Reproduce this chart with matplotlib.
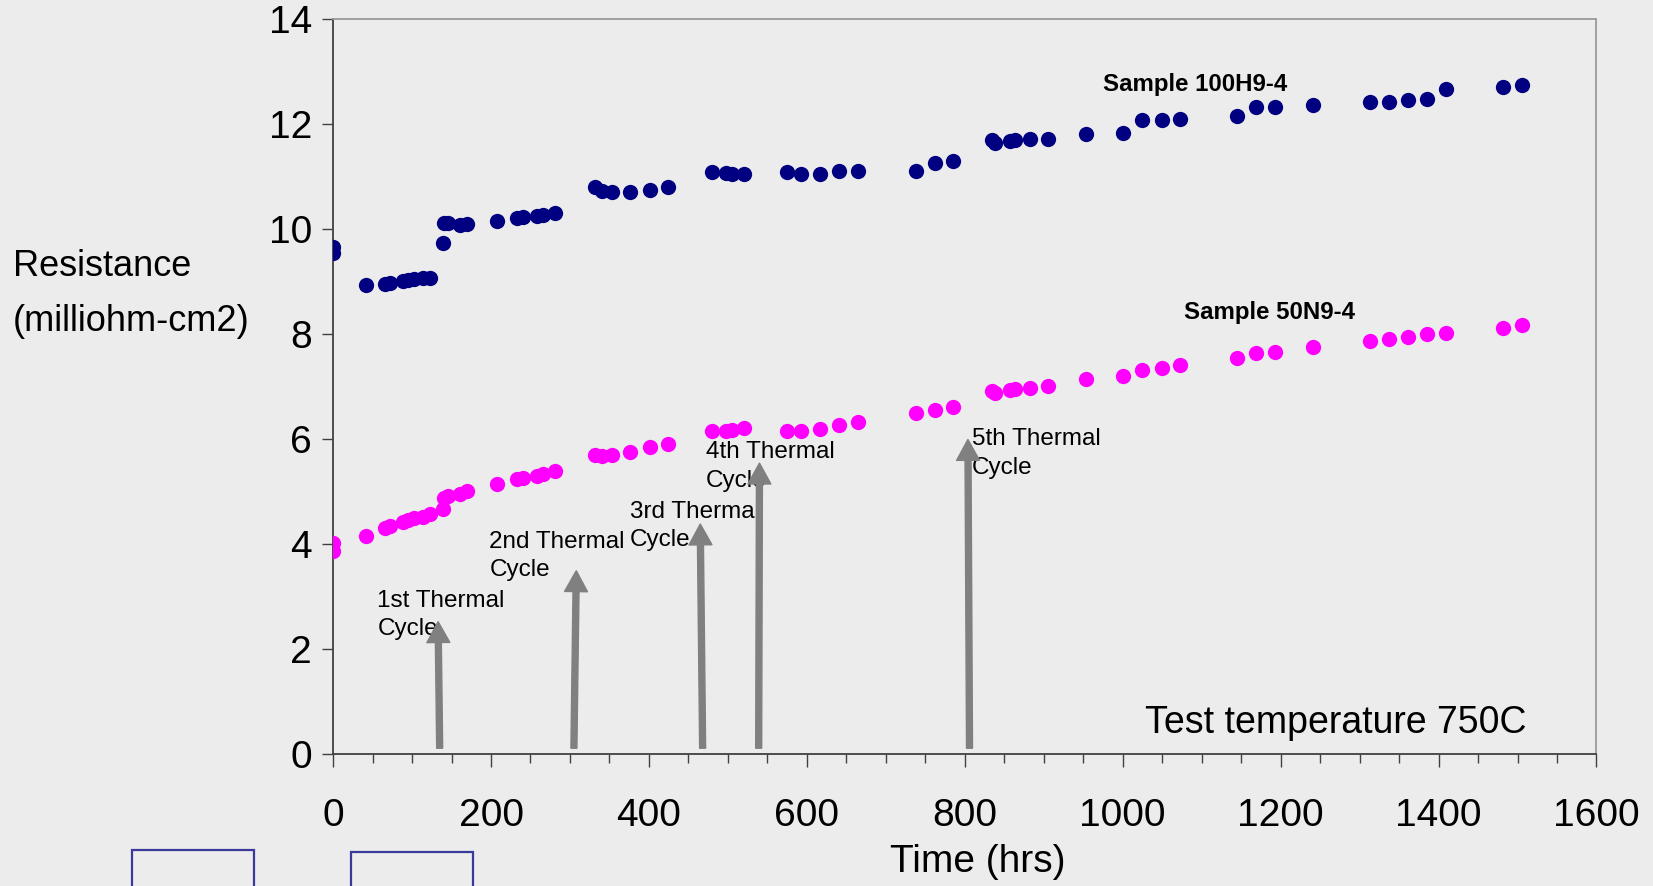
"""Resistance vs time for two samples through five thermal cycles (750C test)."""

import matplotlib
matplotlib.use("Agg")
import matplotlib.pyplot as plt
from matplotlib import font_manager
from matplotlib.patches import Rectangle
from matplotlib.ticker import MultipleLocator

# the original uses Arial Narrow; fall back to Liberation Sans at a smaller size
_installed = {f.name for f in font_manager.fontManager.ttflist}
if "Liberation Sans Narrow" in _installed:
    NARROW, SHRINK = ["Liberation Sans Narrow", "DejaVu Sans"], 1.15
else:
    NARROW, SHRINK = ["Liberation Sans", "DejaVu Sans"], 1.0
REGULAR = ["Liberation Sans", "DejaVu Sans"]
BG = "#ececec"

# hours at which both samples were measured
time_hrs = [0, 0, 42, 66, 72, 89, 95, 102, 114, 123, 139, 140, 146, 161, 170,
            208, 233, 241, 258, 266, 281, 332, 340, 353, 376, 401, 424,
            480, 497, 505, 520, 575, 593, 617, 641, 665, 738, 762, 785,
            834, 838, 857, 864, 882, 905, 953, 1001, 1025, 1050, 1073,
            1145, 1169, 1193, 1241, 1313, 1337, 1361, 1385, 1409, 1481, 1506]

sample_100h9 = [9.65, 9.55, 8.93, 8.95, 8.98, 9.01, 9.03, 9.04, 9.06, 9.07, 9.73,
                10.12, 10.11, 10.08, 10.10, 10.15, 10.20, 10.22, 10.25, 10.27, 10.30,
                10.79, 10.73, 10.71, 10.71, 10.75, 10.79,
                11.09, 11.06, 11.04, 11.05, 11.09, 11.05, 11.04, 11.10, 11.11,
                11.11, 11.26, 11.30, 11.70, 11.64, 11.68, 11.70, 11.72, 11.71,
                11.80, 11.83, 12.08, 12.08, 12.10, 12.16, 12.32, 12.33, 12.36,
                12.41, 12.41, 12.45, 12.47, 12.66, 12.71, 12.75]

sample_50n9 = [4.01, 3.87, 4.15, 4.30, 4.34, 4.42, 4.46, 4.49, 4.52, 4.57, 4.67,
               4.88, 4.91, 4.95, 5.00, 5.15, 5.23, 5.26, 5.30, 5.33, 5.39,
               5.70, 5.68, 5.70, 5.76, 5.85, 5.90,
               6.16, 6.16, 6.17, 6.20, 6.15, 6.15, 6.19, 6.27, 6.32,
               6.50, 6.56, 6.61, 6.92, 6.87, 6.93, 6.95, 6.97, 7.00,
               7.14, 7.19, 7.31, 7.36, 7.40, 7.54, 7.63, 7.66, 7.76,
               7.87, 7.90, 7.95, 7.99, 8.01, 8.12, 8.18]

# thermal cycle arrows: (x at base, x at tip, tip height) and their captions
cycle_labels = ["1st Thermal\nCycle", "2nd Thermal\nCycle", "3rd Thermal\nCycle",
                "4th Thermal\nCycle", "5th Thermal\nCycle"]
cycle_base_x = [135, 305, 468, 539, 806]
cycle_tip_x = [133, 308, 465, 540, 804]
cycle_tip_y = [2.52, 3.49, 4.38, 5.54, 5.99]
cycle_label_x = [56, 198, 376, 472, 809]
cycle_label_y = [3.13, 4.25, 4.82, 5.96, 6.20]

fig = plt.figure(figsize=(16.53, 8.86), dpi=100, facecolor=BG)
ax = fig.add_axes([0.2015, 0.149, 0.7643, 0.8296], facecolor=BG)

ax.plot(time_hrs, sample_100h9, "o", color="#000080", ms=11, mew=0, zorder=3)
ax.plot(time_hrs, sample_50n9, "o", color="#ff00ff", ms=11, mew=0, zorder=3)

for label, lx, ly in zip(cycle_labels, cycle_label_x, cycle_label_y):
    ax.text(lx, ly, label, family=NARROW, fontsize=17.5 * SHRINK, va="top", ha="left",
            linespacing=1.38, zorder=2)
for bx, tx, ty in zip(cycle_base_x, cycle_tip_x, cycle_tip_y):
    ax.annotate("", xy=(tx, ty), xytext=(bx, 0.11),
                arrowprops=dict(facecolor="#808080", edgecolor="#808080",
                                width=4.3, headwidth=16.5, headlength=15, shrink=0),
                zorder=4)

ax.text(1209, 12.62, "Sample 100H9-4", family=NARROW, fontsize=17.3 * SHRINK,
        fontweight="bold", ha="right", va="baseline")
ax.text(1078, 8.28, "Sample 50N9-4", family=NARROW, fontsize=17.3 * SHRINK,
        fontweight="bold", ha="left", va="baseline")
ax.text(1511, 0.4, "Test temperature 750C", family=NARROW, fontsize=27 * SHRINK,
        ha="right", va="baseline")

ax.set_xlim(0, 1600)
ax.set_ylim(0, 14)
ax.xaxis.set_major_locator(MultipleLocator(200))
ax.xaxis.set_minor_locator(MultipleLocator(50))
ax.yaxis.set_major_locator(MultipleLocator(2))

for side in ("left", "bottom"):
    ax.spines[side].set_color("#404040")
    ax.spines[side].set_linewidth(1.3)
for side in ("top", "right"):
    ax.spines[side].set_color("#9a9a9a")
    ax.spines[side].set_linewidth(1.3)

ax.tick_params(axis="x", which="major", direction="out", length=9, width=1,
               color="#404040", pad=23, labelsize=28 * SHRINK)
ax.tick_params(axis="x", which="minor", direction="out", length=6.5, width=1,
               color="#404040")
ax.tick_params(axis="y", direction="out", length=8, width=1, color="#404040",
               pad=7, labelsize=28 * SHRINK)
for lbl in ax.get_xticklabels() + ax.get_yticklabels():
    lbl.set_family(NARROW)

fig.text(978 / 1653, 1 - 872 / 886, "Time (hrs)", family=NARROW, fontsize=28 * SHRINK,
         ha="center", va="baseline")
fig.text(13 / 1653, 1 - 249 / 886, "Resistance\n(milliohm-cm2)", family=REGULAR,
         fontsize=26, ha="left", va="top", linespacing=1.75)

# two outlined boxes peeking in at the bottom edge of the slide
for left, top in ((132, 850), (351, 852)):
    fig.patches.append(Rectangle((left / 1653, -0.02), 122 / 1653, (886 - top) / 886 + 0.02,
                                 transform=fig.transFigure, fill=False,
                                 edgecolor="#3a3a9a", linewidth=1.6))

fig.savefig("out.png", dpi=100, facecolor=BG)
